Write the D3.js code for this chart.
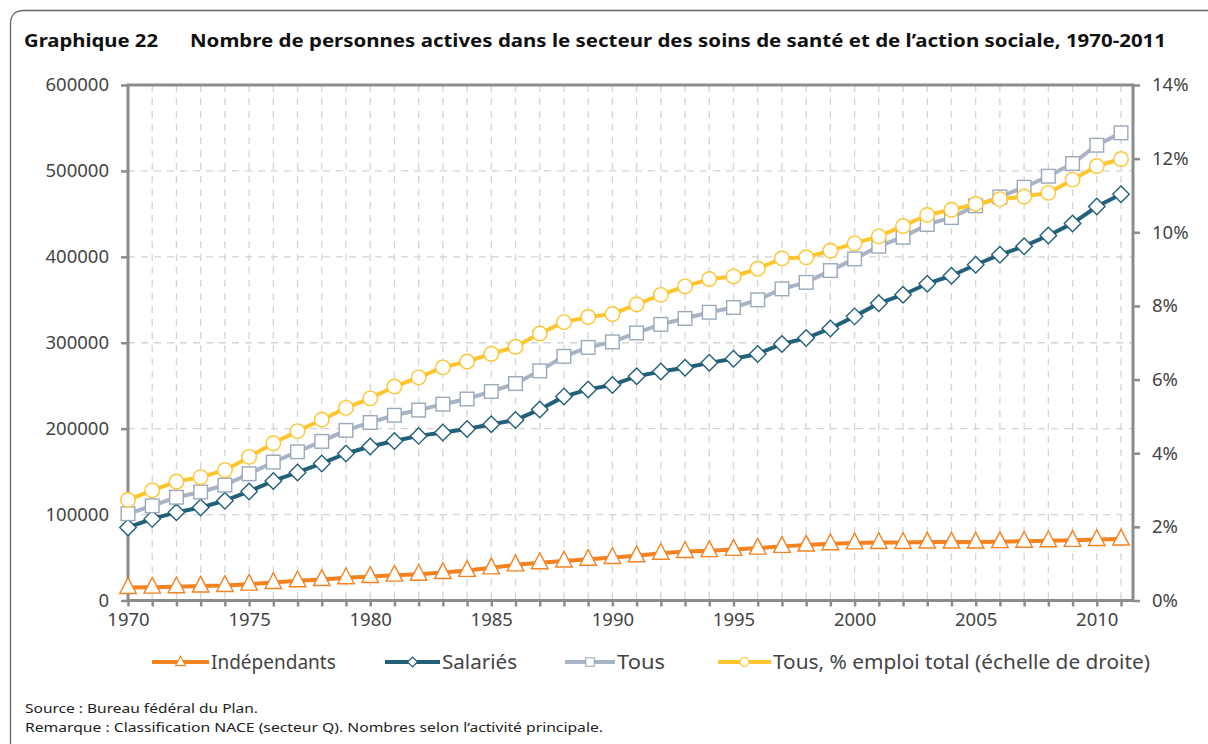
<!DOCTYPE html>
<html><head><meta charset="utf-8">
<script src="https://cdn.jsdelivr.net/npm/d3@7"></script>
<style>body{margin:0;background:#fff}svg{display:block}</style>
</head><body>
<script>
const years = [1970,1971,1972,1973,1974,1975,1976,1977,1978,1979,1980,1981,1982,1983,1984,1985,1986,1987,1988,1989,1990,1991,1992,1993,1994,1995,1996,1997,1998,1999,2000,2001,2002,2003,2004,2005,2006,2007,2008,2009,2010,2011];
const independants = [15200,15500,16000,16800,17500,19000,21000,23000,24500,26500,28000,29500,30500,32500,35000,38000,41500,44000,46000,48000,50000,52000,55000,57000,58000,59500,61000,63000,64500,66000,67000,67500,67500,68000,68000,68000,68500,69000,69500,70000,71000,71500];
const salaries = [85000,95000,102600,108200,116200,127000,139100,149100,159500,171100,179200,185600,191600,195600,199600,205200,210000,222400,237300,245700,250900,260900,266500,270900,276600,281400,287000,298600,305400,316600,330700,345900,355900,368700,378000,390800,402400,412400,424800,438900,458500,472900];
const tous = [101000,110200,120200,126300,134300,147500,161100,173100,185200,198000,207200,215600,221600,228500,234500,243300,252500,267300,284200,294600,301000,311400,321400,328300,335500,341000,350000,362700,370300,384000,397600,412400,422800,437700,445700,459300,469700,481000,493800,508600,529900,544300];
const tousPct = [2.73,2.99,3.23,3.35,3.54,3.90,4.27,4.60,4.91,5.23,5.49,5.81,6.06,6.33,6.49,6.70,6.89,7.25,7.56,7.70,7.78,8.04,8.30,8.53,8.73,8.80,9.01,9.29,9.32,9.50,9.70,9.89,10.17,10.47,10.61,10.77,10.90,10.97,11.07,11.43,11.80,11.99];
const leftTicks = [0,100000,200000,300000,400000,500000,600000];
const rightTicks = [0,2,4,6,8,10,12,14];
const xLabelYears = [1970,1975,1980,1985,1990,1995,2000,2005,2010];
const seriesNames = ["Indépendants","Salariés","Tous","Tous, % emploi total (échelle de droite)"];
const titleNum = "Graphique 22";
const titleText = "Nombre de personnes actives dans le secteur des soins de santé et de l\u2019action sociale, 1970-2011";
const notes = ["Source : Bureau fédéral du Plan.","Remarque : Classification NACE (secteur Q). Nombres selon l\u2019activité principale."];

const W=1208,H=744;
const svg=d3.select("body").append("svg").attr("width",W).attr("height",H);
const FONT="'Noto Sans', 'Open Sans', sans-serif";

function fit(sel,w){const n=sel.node();const l=n.getComputedTextLength();if(Math.abs(l-w)>2){sel.attr("textLength",w).attr("lengthAdjust","spacingAndGlyphs");}}

// frame border
svg.append("path").attr("d","M10.5,760 L10.5,24 Q10.5,10.5 24,10.5 L1220,10.5")
  .attr("fill","none").attr("stroke","#666").attr("stroke-width",1.3);

// title
const t1=svg.append("text").attr("x",24).attr("y",47).attr("font-family",FONT).attr("font-weight","bold").attr("font-size",17.5).attr("fill","#111").text(titleNum);
fit(t1,134);
const t2=svg.append("text").attr("x",190).attr("y",47).attr("font-family",FONT).attr("font-weight","bold").attr("font-size",17.5).attr("fill","#111").text(titleText);
fit(t2,976);

const x0=128,x1=1121,axR=1133,yTop=85,yBot=600.5;
const x=d3.scaleLinear().domain([1970,2011]).range([x0,x1]);
const yL=d3.scaleLinear().domain([0,600000]).range([yBot,yTop]);
const yR=d3.scaleLinear().domain([0,14]).range([yBot,yTop]);

const g=svg.append("g");
// grid
g.selectAll(".vg").data(years.slice(1)).join("line")
  .attr("x1",d=>x(d)).attr("x2",d=>x(d)).attr("y1",yTop).attr("y2",yBot)
  .attr("stroke","#d4d4d4").attr("stroke-width",1.3).attr("stroke-dasharray","7,6");
g.selectAll(".hg").data(leftTicks.slice(1,-1)).join("line")
  .attr("x1",x0).attr("x2",axR).attr("y1",d=>yL(d)).attr("y2",d=>yL(d))
  .attr("stroke","#d4d4d4").attr("stroke-width",1.3).attr("stroke-dasharray","7,6");

// axes
const axC="#8c8c8c";
const axL=d3.axisLeft(yL).tickValues(leftTicks).tickFormat(d=>d).tickSize(7).tickPadding(12);
const gl=svg.append("g").attr("transform",`translate(${x0},0)`).call(axL);
const axRt=d3.axisRight(yR).tickValues(rightTicks).tickFormat(d=>d+"%").tickSize(7).tickPadding(12);
const gr=svg.append("g").attr("transform",`translate(${axR},0)`).call(axRt);
const axB=d3.axisBottom(x).tickValues(years).tickFormat(d=>xLabelYears.includes(d)?d:"").tickSize(6).tickPadding(4);
const gb=svg.append("g").attr("transform",`translate(0,${yBot})`).call(axB);
[gl,gr,gb].forEach(a=>{
  a.select(".domain").remove();
  a.selectAll(".tick line").attr("stroke",axC).attr("stroke-width",2.5);
  a.selectAll("text").attr("font-family",FONT).attr("font-size",18.5).attr("fill","#444");
});
gb.selectAll("text").attr("dy","0.85em");
// frame lines
svg.append("rect").attr("x",x0).attr("y",yTop).attr("width",axR-x0).attr("height",yBot-yTop)
  .attr("fill","none").attr("stroke",axC).attr("stroke-width",3);

// series
const colors=["#F58220","#22607A","#A8B4C4","#FFC52E"];
const mstroke=["#F58220","#22607A","#9AA9BB","#FFC52E"];
const data=[
  {vals:independants,y:yL},
  {vals:salaries,y:yL},
  {vals:tous,y:yL},
  {vals:tousPct,y:yR}
];
function marker(sel,i,s){
  if(i===0){ // triangle
    const h=s*1.05,w=s*1.1;
    sel.append("path").attr("d",`M0,${-h*0.62} L${w/2},${h*0.38} L${-w/2},${h*0.38} Z`);
  } else if(i===1){
    const r=s*0.5; sel.append("path").attr("d",`M0,${-r} L${r},0 L0,${r} L${-r},0 Z`);
  } else if(i===2){
    const a=s*0.47; sel.append("rect").attr("x",-a).attr("y",-a).attr("width",2*a).attr("height",2*a);
  } else {
    sel.append("circle").attr("r",s*0.5);
  }
}
const msize=[15,16.5,14.5,14.5];
data.forEach((s,i)=>{
  const line=d3.line().x((d,j)=>x(years[j])).y(d=>s.y(d));
  svg.append("path").datum(s.vals).attr("d",line).attr("fill","none").attr("stroke",colors[i]).attr("stroke-width",4).attr("stroke-linejoin","round");
  const mg=svg.append("g");
  s.vals.forEach((v,j)=>{
    const m=mg.append("g").attr("transform",`translate(${x(years[j])},${s.y(v)})`);
    marker(m,i,msize[i]);
  });
  mg.selectAll("path,rect,circle").attr("fill","#fff").attr("stroke",mstroke[i]).attr("stroke-width",1.4);
});

// legend
const leg=[{lx:152,tx:211,tw:126},{lx:385,tx:442,tw:75},{lx:565,tx:617,tw:48},{lx:718,tx:773,tw:377}];
const lsize=[9,10,9,9];
leg.forEach((L,i)=>{
  const ly=662;
  svg.append("line").attr("x1",L.lx).attr("x2",L.tx-2).attr("y1",ly).attr("y2",ly).attr("stroke",colors[i]).attr("stroke-width",4);
  const m=svg.append("g").attr("transform",`translate(${(L.lx+L.tx-2)/2},${ly})`);
  marker(m,i,lsize[i]);
  m.selectAll("path,rect,circle").attr("fill","#fff").attr("stroke",mstroke[i]).attr("stroke-width",1.1);
  const tt=svg.append("text").attr("x",L.tx).attr("y",669).attr("font-family",FONT).attr("font-size",19).attr("fill","#444").text(seriesNames[i]);
  fit(tt,L.tw);
});

// notes
const n1=svg.append("text").attr("x",25).attr("y",713).attr("font-family",FONT).attr("font-size",12.5).attr("fill","#222").text(notes[0]);
fit(n1,233);
const n2=svg.append("text").attr("x",25).attr("y",732).attr("font-family",FONT).attr("font-size",12.5).attr("fill","#222").text(notes[1]);
fit(n2,578);
</script>
</body></html>
